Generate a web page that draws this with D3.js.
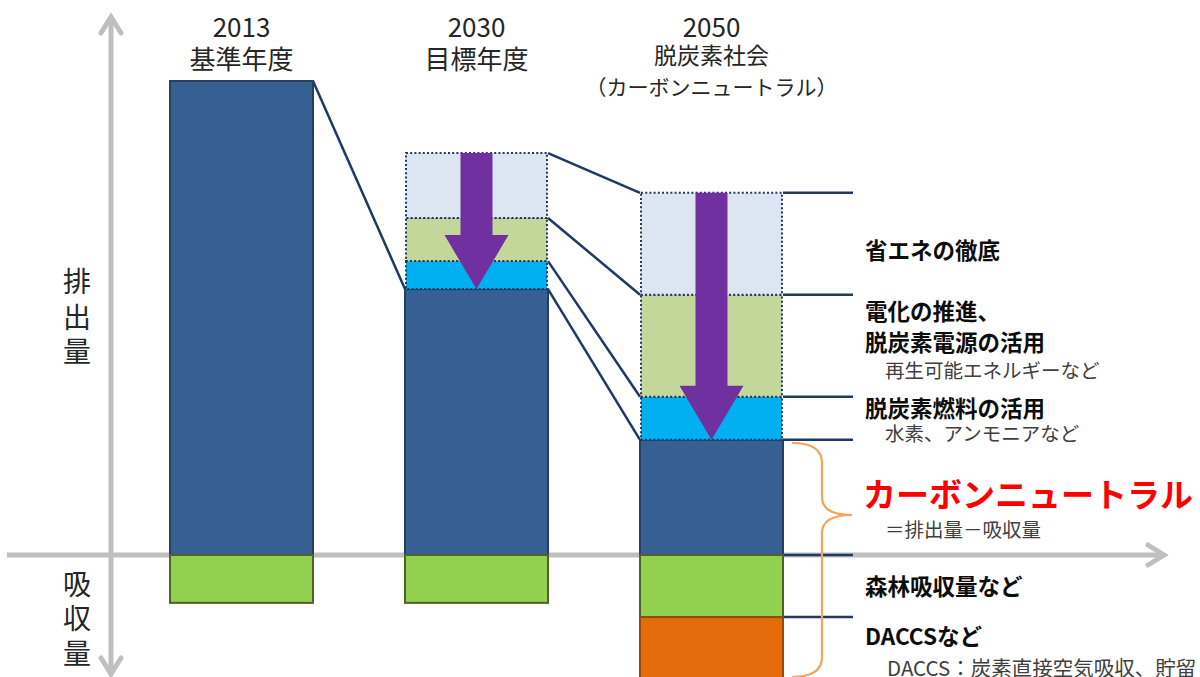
<!DOCTYPE html>
<html>
<head>
<meta charset="utf-8">
<script src="https://cdn.jsdelivr.net/npm/d3@7/dist/d3.min.js"></script>
<style>
  html, body { margin: 0; padding: 0; background: #fff; }
  svg { display: block; }
  text { font-family: "Noto Sans CJK JP", "Noto Sans", sans-serif; }
</style>
</head>
<body>
<svg id="chart" width="1200" height="677"></svg>
<script>
// ---------------- data ----------------
const years = ["2013", "2030", "2050"];
const headerLines = [
  ["2013", "基準年度"],
  ["2030", "目標年度"],
  ["2050", "脱炭素社会", "（カーボンニュートラル）"]
];
// emissions (2013 = 100)
const remaining   = [100, 56.1, 24.3];
const fuelCut     = [0, 5.9, 9.1];
const electricCut = [0, 9.1, 21.5];
const savingCut   = [0, 13.7, 21.5];
// absorption
const forestAbsorb = [10.1, 10.1, 13.1];
const daccsAbsorb  = [0, 0, 13.6];

const axisLabelUp = ["排", "出", "量"];
const axisLabelDown = ["吸", "収", "量"];

const rightLabels = [
  { text: "省エネの徹底", kind: "main", y: 249 },
  { text: "電化の推進、", kind: "main", y: 310 },
  { text: "脱炭素電源の活用", kind: "main", y: 341 },
  { text: "再生可能エネルギーなど", kind: "sub", y: 369 },
  { text: "脱炭素燃料の活用", kind: "main", y: 407 },
  { text: "水素、アンモニアなど", kind: "sub", y: 432 },
  { text: "カーボンニュートラル", kind: "big", y: 493 },
  { text: "＝排出量－吸収量", kind: "sub", y: 528 },
  { text: "森林吸収量など", kind: "main", y: 585 },
  { text: "DACCSなど", kind: "main", y: 635 },
  { text: "DACCS：炭素直接空気吸収、貯留", kind: "sub2", y: 667 }
];

// ---------------- scales ----------------
const svg = d3.select("#chart");
const x = d3.scaleBand().domain(years).range([170, 783]).paddingInner(0.3915).paddingOuter(0);
const y = d3.scaleLinear().domain([0, 100]).range([555, 81]);
const bw = x.bandwidth();

const colors = {
  remaining: "#366092", fuel: "#00b0f0", electric: "#c4d79b", saving: "#dce6f2",
  forest: "#92d050", daccs: "#e46c0a"
};
const strokes = {
  remaining: "#243f60", fuel: "#1f3864", electric: "#1f3864", saving: "#1f3864",
  forest: "#4f6228", daccs: "#984807"
};

// build segments
const segments = [];
years.forEach((yr, i) => {
  let b = 0;
  const parts = [["remaining", remaining[i]], ["fuel", fuelCut[i]], ["electric", electricCut[i]], ["saving", savingCut[i]]];
  parts.forEach(([k, v]) => {
    if (v > 0) segments.push({ yr, key: k, y0: b, y1: b + v, dotted: k !== "remaining" });
    b += v;
  });
  let n = 0;
  [["forest", forestAbsorb[i]], ["daccs", daccsAbsorb[i]]].forEach(([k, v]) => {
    if (v > 0) segments.push({ yr, key: k, y0: n - v, y1: n, dotted: false });
    n -= v;
  });
});

// cumulative boundaries (positive stack)
function boundaries(i) {
  const r = remaining[i], f = r + fuelCut[i], e = f + electricCut[i], s = e + savingCut[i];
  return { r, f, e, s };
}

// ---------------- axes ----------------
const axisColor = "#bfbfbf";
const axisG = svg.append("g");
const zeroY = y(0);
const axisX = 111;
axisG.append("line").attr("x1", axisX).attr("x2", axisX).attr("y1", 17).attr("y2", 673)
  .attr("stroke", axisColor).attr("stroke-width", 5);
axisG.append("path").attr("d", `M${axisX - 10},33 L${axisX},17 L${axisX + 10},33`)
  .attr("fill", "none").attr("stroke", axisColor).attr("stroke-width", 5).attr("stroke-linecap", "round");
axisG.append("path").attr("d", `M${axisX - 10},658 L${axisX},674 L${axisX + 10},658`)
  .attr("fill", "none").attr("stroke", axisColor).attr("stroke-width", 5).attr("stroke-linecap", "round");
axisG.append("line").attr("x1", 7).attr("x2", 1163).attr("y1", zeroY).attr("y2", zeroY)
  .attr("stroke", axisColor).attr("stroke-width", 5);
axisG.append("path").attr("d", `M1148,${zeroY - 10} L1164,${zeroY} L1148,${zeroY + 10}`)
  .attr("fill", "none").attr("stroke", axisColor).attr("stroke-width", 5).attr("stroke-linecap", "round");

// axis labels (vertical text)
const upY = [280, 316, 350];
axisG.selectAll("text.up").data(axisLabelUp).join("text").attr("class", "up")
  .attr("x", 77).attr("y", (d, i) => upY[i]).attr("text-anchor", "middle").attr("dominant-baseline", "central")
  .attr("font-size", 28).attr("fill", "#262626").text(d => d);
const downY = [583, 617, 652];
axisG.selectAll("text.down").data(axisLabelDown).join("text").attr("class", "down")
  .attr("x", 77).attr("y", (d, i) => downY[i]).attr("text-anchor", "middle").attr("dominant-baseline", "central")
  .attr("font-size", 28).attr("fill", "#262626").text(d => d);

// ---------------- connectors ----------------
const lineColor = "#1f3864";
const conG = svg.append("g");
conG.append("line")
  .attr("x1", x("2013") + bw).attr("y1", y(remaining[0]))
  .attr("x2", x("2030")).attr("y2", y(remaining[1]))
  .attr("stroke", lineColor).attr("stroke-width", 2.5);
const b30 = boundaries(1), b50 = boundaries(2);
["s", "e", "f", "r"].forEach(k => {
  conG.append("line")
    .attr("x1", x("2030") + bw).attr("y1", y(b30[k]))
    .attr("x2", x("2050")).attr("y2", y(b50[k]))
    .attr("stroke", lineColor).attr("stroke-width", 2.5);
});
const tickVals = [b50.s, b50.e, b50.f, b50.r, 0, -forestAbsorb[2]];
conG.selectAll("line.tick").data(tickVals).join("line").attr("class", "tick")
  .attr("x1", x("2050") + bw).attr("x2", 853)
  .attr("y1", d => y(d)).attr("y2", d => y(d))
  .attr("stroke", lineColor).attr("stroke-width", 2.5);

// ---------------- bars ----------------
const barG = svg.append("g");
barG.selectAll("rect").data(segments).join("rect")
  .attr("x", d => x(d.yr) + (d.dotted ? 1 : 0))
  .attr("width", d => bw - (d.dotted ? 2 : 0))
  .attr("y", d => y(d.y1))
  .attr("height", d => y(d.y0) - y(d.y1))
  .attr("fill", d => colors[d.key])
  .attr("stroke", d => strokes[d.key])
  .attr("stroke-width", 2)
  .attr("stroke-dasharray", d => d.dotted ? "2,2.2" : null);

// ---------------- purple arrows ----------------
const arrowG = svg.append("g");
[1, 2].forEach(i => {
  const b = boundaries(i);
  const cx = x(years[i]) + bw / 2;
  const top = y(b.s), tip = y(b.r);
  const headLen = 54, sw = 16, hw = 32;
  const d = `M${cx - sw},${top} L${cx + sw},${top} L${cx + sw},${tip - headLen} L${cx + hw},${tip - headLen}
             L${cx},${tip} L${cx - hw},${tip - headLen} L${cx - sw},${tip - headLen} Z`;
  arrowG.append("path").attr("d", d).attr("fill", "#7030a0");
});

// ---------------- brace ----------------
svg.append("path")
  .attr("d", "M792,443 Q822,443 822,463 L822,497 Q822,515 852,515 Q822,515 822,533 L822,657 Q822,677 792,677")
  .attr("fill", "none").attr("stroke", "#f9a259").attr("stroke-width", 2.2);

// ---------------- headers ----------------
const headG = svg.append("g");
headerLines.forEach((lines, i) => {
  const cx = x(years[i]) + bw / 2;
  lines.forEach((t, j) => {
    let fs = 26, yy = j === 0 ? 25 : 57;
    if (i === 2 && j === 1) { fs = 23; yy = 54; }
    if (i === 2 && j === 2) { fs = 21; yy = 86; }
    headG.append("text").attr("x", cx).attr("y", yy)
      .attr("text-anchor", "middle").attr("dominant-baseline", "central")
      .attr("font-size", fs).attr("fill", "#262626").text(t);
  });
});

// ---------------- right labels ----------------
const style = {
  main: { x: 865, fs: 22.5, fw: "bold", fill: "#0d0d0d" },
  sub:  { x: 885, fs: 19.5, fw: "normal", fill: "#404040" },
  sub2: { x: 887, fs: 20.5, fw: "normal", fill: "#404040" },
  big:  { x: 863, fs: 33, fw: "bold", fill: "#ff0000" }
};
svg.append("g").selectAll("text").data(rightLabels).join("text")
  .attr("x", d => style[d.kind].x).attr("y", d => d.y)
  .attr("dominant-baseline", "central")
  .attr("font-size", d => style[d.kind].fs)
  .attr("font-weight", d => style[d.kind].fw)
  .attr("fill", d => style[d.kind].fill)
  .text(d => d.text);
</script>
</body>
</html>
